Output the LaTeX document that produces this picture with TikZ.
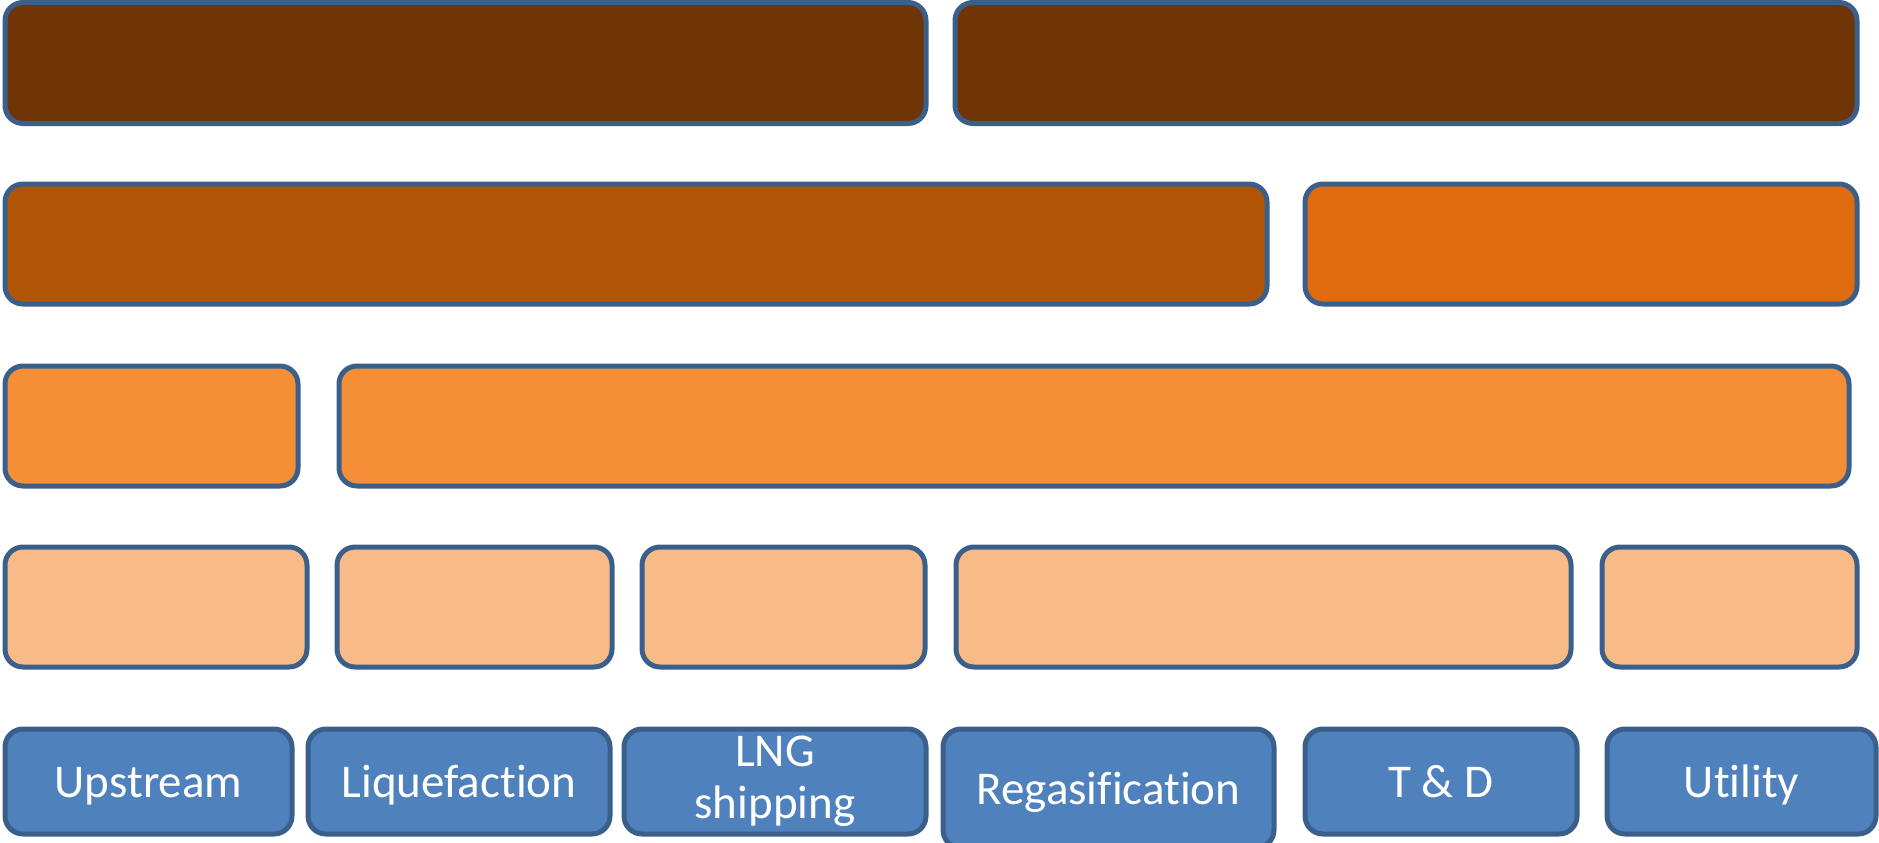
\documentclass[tikz,border=0pt]{standalone}
\usepackage{fontspec}
\setmainfont{Carlito}[Ligatures={NoCommon,NoContextual}]
\definecolor{edge}{HTML}{3A5F8B}
\definecolor{cA}{HTML}{6F3507}
\definecolor{cB}{HTML}{B05406}
\definecolor{cC}{HTML}{DE6B0D}
\definecolor{cD}{HTML}{F48F37}
\definecolor{cE}{HTML}{F8BB88}
\definecolor{cF}{HTML}{4F81BD}
\tikzset{
  bar/.style={draw=edge, line width=5pt, rounded corners=18pt, inner sep=0pt, outer sep=0pt},
  lbl/.style={bar, fill=cF, text=white, align=center, text height=32pt, text depth=0pt,
    font=\fontsize{47}{52}\selectfont},
}
\newcommand{\barbox}[7]{% name, style, x1, y1, x2, y2, text
  \node[#2, minimum width={(#5-#3)*1pt}, minimum height={(#6-#4)*1pt}] (#1) at ({(#3+#5)/2}, {(#4+#6)/2}) {#7};}
\begin{document}
\begin{tikzpicture}[x=1pt, y=-1pt]
\useasboundingbox (0,0) rectangle (1879,843);
% row 1
\barbox{a1}{bar,fill=cA}{5}{2.5}{926}{123.5}{}
\barbox{a2}{bar,fill=cA}{955}{2.5}{1857}{123.5}{}
% row 2
\barbox{b1}{bar,fill=cB}{5}{184}{1267}{304}{}
\barbox{b2}{bar,fill=cC}{1305}{184}{1857}{304}{}
% row 3
\barbox{c1}{bar,fill=cD}{5}{366}{298}{486}{}
\barbox{c2}{bar,fill=cD}{339}{366}{1849}{486}{}
% row 4
\barbox{d1}{bar,fill=cE}{5}{547}{307}{667}{}
\barbox{d2}{bar,fill=cE}{337}{547}{612}{667}{}
\barbox{d3}{bar,fill=cE}{642}{547}{925}{667}{}
\barbox{d4}{bar,fill=cE}{956}{547}{1571}{667}{}
\barbox{d5}{bar,fill=cE}{1602}{547}{1857}{667}{}
% row 5
\barbox{e1}{lbl}{5}{729}{292}{834}{Upstream}
\barbox{e2}{lbl}{308}{729}{610}{834}{Liquefaction}
\barbox{e3}{lbl,text height={},text depth={}}{624}{729}{926}{834}{LNG\\shipping}
\barbox{e4}{lbl}{943}{729}{1274}{848}{Regasification}
\barbox{e5}{lbl}{1305}{729}{1577}{834}{T \& D}
\barbox{e6}{lbl}{1607}{729}{1876}{834}{Utility}
\end{tikzpicture}
\end{document}
